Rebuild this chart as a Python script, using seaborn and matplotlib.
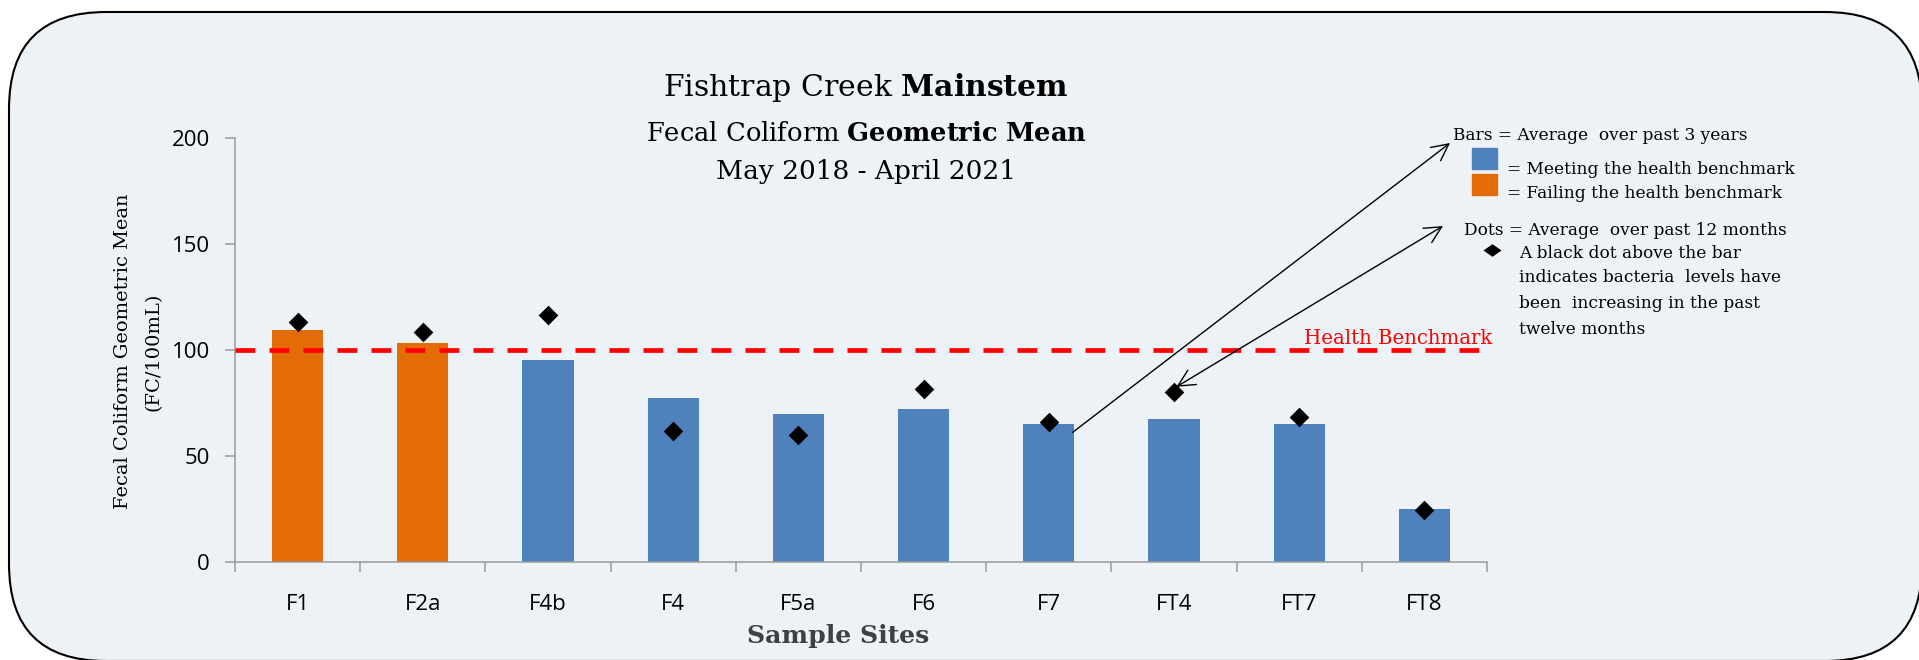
import matplotlib
matplotlib.use("Agg")
import numpy as np
import pandas as pd
import matplotlib.pyplot as plt
from matplotlib.patches import FancyBboxPatch, Rectangle
import seaborn as sns

# values
sites = ["F1", "F2a", "F4b", "F4", "F5a", "F6", "F7", "FT4", "FT7", "FT8"]
geomean_3yr = [109.5, 103, 95.3, 77, 69.6, 71.8, 65, 67.3, 65, 25]
geomean_12mo = [113.3, 108.2, 116.4, 61.5, 60, 81.6, 66, 80, 68.3, 24.5]
benchmark = 100
yticks = [0, 50, 100, 150, 200]

blue = "#4F81BD"
orange = "#E36C09"
grey = "#9A9A9A"

df = pd.DataFrame({"site": sites, "three_year": geomean_3yr, "twelve_month": geomean_12mo})
df["status"] = np.where(df["three_year"] > benchmark, "Failing", "Meeting")

sns.set_style("ticks")
plt.rcParams["font.family"] = ["DejaVu Serif"]
plt.rcParams["mathtext.fontset"] = "dejavuserif"
plt.rcParams["text.color"] = "black"

W, H = 1919, 660
fig = plt.figure(figsize=(W / 100, H / 100), dpi=100, facecolor="white")

# background layer in pixel coords (y down), holds the rounded panel and the notes
ov = fig.add_axes([0, 0, 1, 1], zorder=-1)
ov.set_xlim(0, W)
ov.set_ylim(H, 0)
ov.axis("off")
ov.add_patch(FancyBboxPatch((9, 12), 1913, 649, boxstyle="round,pad=0,rounding_size=97",
                            fc="#EDF2F7", ec="black", lw=1.5))

ax = fig.add_axes([235 / W, 1 - 561.7 / H, (1487 - 235) / W, (561.7 - 137.7) / H])
ax.set_facecolor("none")

sns.barplot(data=df, x="site", y="three_year", hue="status",
            palette={"Meeting": blue, "Failing": orange}, dodge=False, width=0.41,
            saturation=1, legend=False, linewidth=0, ax=ax, zorder=2)
ax.axhline(benchmark, color="#FF0000", lw=3.4, ls=(0, (4.2, 3)), zorder=3)
sns.stripplot(data=df, x="site", y="twelve_month", marker="D", size=10, color="black",
              jitter=False, linewidth=0, ax=ax, zorder=4)

ax.set_xlim(-0.5, len(sites) - 0.5)
ax.set_ylim(0, 200)
ax.set_xlabel("")
ax.set_ylabel("")
ax.set_xticks(range(len(sites)), labels=sites, fontfamily="Open Sans", fontsize=16)
ax.set_xticks(np.arange(-0.5, len(sites)), minor=True)
ax.set_yticks(yticks, labels=[str(v) for v in yticks], fontfamily="Open Sans", fontsize=16)
ax.tick_params(axis="x", which="major", length=0, pad=23, labelcolor="black")
ax.tick_params(axis="x", which="minor", length=7, width=1.1, color=grey, direction="out")
ax.tick_params(axis="y", length=7, width=1.1, color=grey, direction="out", pad=11, labelcolor="black")
sns.despine(ax=ax)
for s in ["left", "bottom"]:
    ax.spines[s].set_color(grey)
    ax.spines[s].set_linewidth(1.1)

# arrows from the bars / dots to the notes
head = "head_length=0.6,head_width=0.3"
arrow_kw = dict(color="black", lw=1.0, shrinkA=0, shrinkB=0, mutation_scale=20)
ax.annotate("", xy=(1450, H - 143), xycoords="figure pixels", xytext=(6.19, 61),
            textcoords="data", arrowprops=dict(arrowstyle="->," + head, **arrow_kw),
            annotation_clip=False)
ax.annotate("", xy=(1443, H - 226), xycoords="figure pixels", xytext=(7.02, 82.5),
            textcoords="data", arrowprops=dict(arrowstyle="<->," + head, **arrow_kw),
            annotation_clip=False)

renderer = fig.canvas.get_renderer()


def fit(t, target):
    bb = t.get_window_extent(renderer)
    t.set_fontsize(t.get_fontsize() * target / max(bb.width, bb.height))
    return t


# titles
fit(ov.text(866, 95.7, r"Fishtrap Creek $\mathbf{Mainstem}$", ha="center", va="baseline", fontsize=22), 405)
fit(ov.text(866, 140.7, r"Fecal Coliform $\mathbf{Geometric\ Mean}$", ha="center", va="baseline", fontsize=18), 442)
fit(ov.text(866, 179.3, "May 2018 - April 2021", ha="center", va="baseline", fontsize=18), 300)

# axis titles
yl = fit(ov.text(123, 351.5, "Fecal Coliform Geometric Mean", rotation=90, ha="center", va="center", fontsize=14), 316)
ov.text(154, 352, "(FC/100mL)", rotation=90, ha="center", va="center", fontsize=yl.get_fontsize())
fit(ov.text(838, 642.7, "Sample Sites", ha="center", va="baseline", fontweight="bold",
            color="#404040", fontsize=18), 182.7)

fit(ov.text(1492, 344.5, "Health Benchmark", ha="right", va="baseline", color="#FF0000", fontsize=16), 189)

# notes on the right
ref = fit(ov.text(1507, 174.4, "= Meeting the health benchmark", va="baseline", fontsize=14), 289)
fs = ref.get_fontsize()
ov.text(1453, 139.8, "Bars = Average  over past 3 years", va="baseline", fontsize=fs)
ov.text(1507, 197.7, "= Failing the health benchmark", va="baseline", fontsize=fs)
ov.text(1464, 235.4, "Dots = Average  over past 12 months", va="baseline", fontsize=fs)
note = ["A black dot above the bar", "indicates bacteria  levels have",
        "been  increasing in the past", "twelve months"]
for line, yb in zip(note, [257.9, 282.3, 308.3, 334]):
    ov.text(1519, yb, line, va="baseline", fontsize=fs)
ov.add_patch(Rectangle((1472, 148), 25, 21, color=blue))
ov.add_patch(Rectangle((1472, 174), 25, 21, color=orange))
ov.plot(1492, 250, marker=[(-1, 0), (0, 0.7), (1, 0), (0, -0.7)], ms=13, color="black", mew=0)

fig.savefig("out.png", dpi=100, facecolor="white")
